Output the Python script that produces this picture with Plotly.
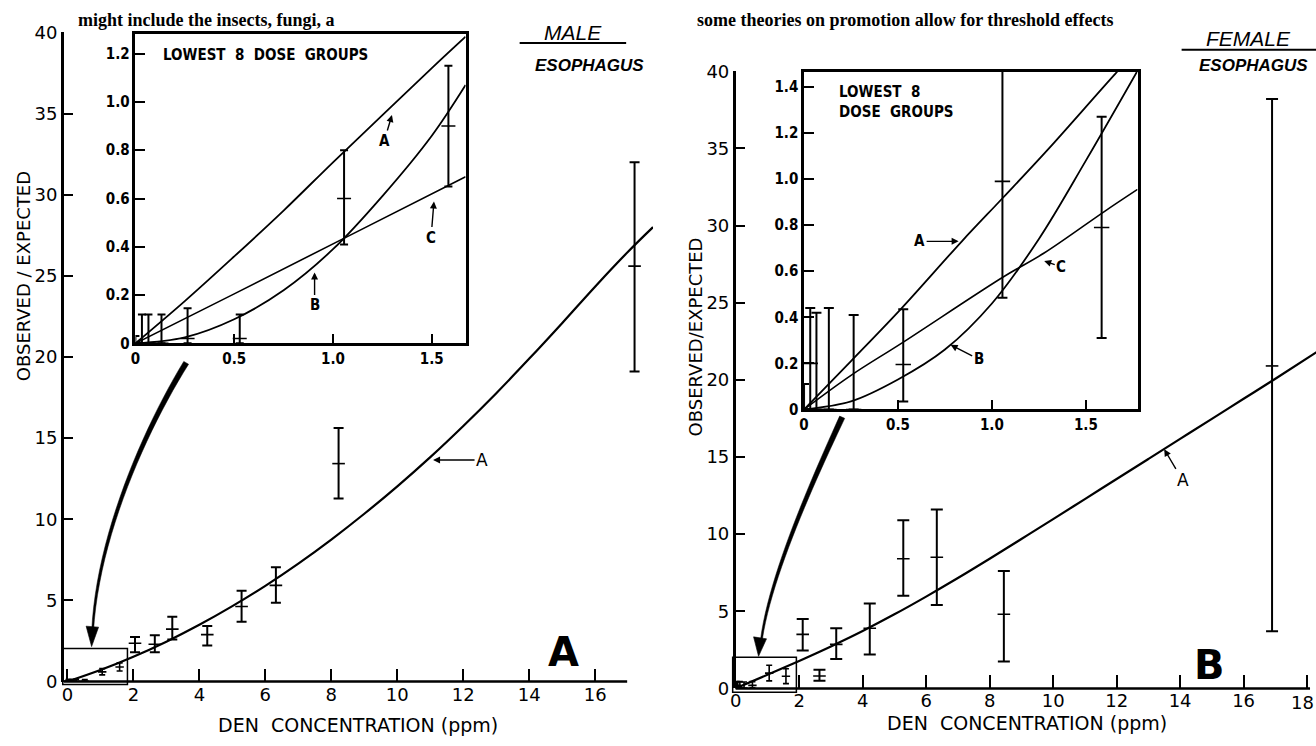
import plotly.graph_objects as go

W, H = 1316, 746


def fx(p):
    return p / W


def fy(p):
    return 1 - p / H


# ---------------- data ----------------
low_dose = [0, 0.033, 0.066, 0.132, 0.264, 0.528, 1.056, 1.584]

male_low_mid = [0, 0, 0, 0, 0.02, 0.02, 0.60, 0.90]
male_low_lo = [0, 0, 0, 0, 0, 0, 0.41, 0.65]
male_low_hi = [0.03, 0.12, 0.12, 0.12, 0.145, 0.12, 0.80, 1.15]

male_hi_dose = [2.05, 2.65, 3.18, 4.24, 5.28, 6.32, 8.22, 17.19]
male_hi_mid = [2.36, 2.3, 3.23, 2.89, 4.63, 5.93, 13.43, 25.6]
male_hi_lo = [1.8, 1.8, 2.59, 2.23, 3.69, 4.85, 11.28, 19.1]
male_hi_hi = [2.75, 2.85, 3.99, 3.43, 5.59, 7.05, 15.63, 32.0]

fem_low_mid = [0, 0.2, 0, 0, 0, 0.195, 0.99, 0.79]
fem_low_lo = [0, 0, 0, 0, 0, 0.035, 0.485, 0.31]
fem_low_hi = [0.11, 0.44, 0.42, 0.44, 0.41, 0.435, 1.50, 1.27]

fem_hi_dose = [2.112, 2.64, 3.168, 4.224, 5.28, 6.336, 8.448, 16.896]
fem_hi_mid = [3.5, 0.8, 2.85, 3.9, 8.4, 8.5, 4.8, 20.9]
fem_hi_lo = [2.45, 0.5, 1.9, 2.2, 6.0, 5.4, 1.75, 3.7]
fem_hi_hi = [4.5, 1.2, 3.9, 5.5, 10.9, 11.6, 7.6, 38.2]

# fitted model curves
male_A_x = [0, 1, 2, 3, 4, 5, 6, 7, 8, 9, 10, 11, 12, 13, 14, 15, 16, 17, 17.75]
male_A_y = [0, 0.71, 1.53, 2.46, 3.50, 4.65, 5.90, 7.27, 8.75, 10.34, 12.03, 13.83,
            15.75, 17.77, 19.90, 22.1, 24.35, 26.5, 28.0]

male_inA_x = [0, 0.25, 0.5, 0.75, 1.0, 1.25, 1.5, 1.671]
male_inA_y = [0, 0.175, 0.36, 0.55, 0.75, 0.945, 1.14, 1.27]
male_inB_x = [0, 0.25, 0.5, 0.75, 1.0, 1.25, 1.5, 1.671]
male_inB_y = [0, 0.025, 0.1, 0.22, 0.39, 0.61, 0.86, 1.07]
male_inC_x = [0, 0.5, 1.06, 1.671]
male_inC_y = [0, 0.205, 0.437, 0.69]

fem_A_x = [0, 1, 2, 3, 4, 5, 6, 7, 8, 9, 10, 11, 12, 13, 14, 15, 16, 17, 18.3]
fem_A_y = [0, 0.88, 1.78, 2.72, 3.72, 4.80, 5.95, 7.15, 8.40, 9.68, 10.97, 12.27,
           13.57, 14.87, 16.17, 17.47, 18.77, 20.07, 21.8]

fem_inA_x = [0, 0.25, 0.52, 0.84, 1.06, 1.3, 1.66, 1.775]
fem_inA_y = [0, 0.21, 0.44, 0.73, 0.92, 1.13, 1.46, 1.56]
fem_inB_x = [0, 0.25, 0.5, 0.75, 1.0, 1.25, 1.5, 1.775]
fem_inB_y = [0, 0.035, 0.13, 0.26, 0.46, 0.74, 1.08, 1.47]
fem_inC_x = [0, 0.25, 0.52, 1.06, 1.28, 1.6, 1.775]
fem_inC_y = [0, 0.148, 0.288, 0.575, 0.68, 0.86, 0.955]

main_y_ticks = [0, 5, 10, 15, 20, 25, 30, 35, 40]
male_x_ticks = [0, 2, 4, 6, 8, 10, 12, 14, 16]
fem_x_ticks = [0, 2, 4, 6, 8, 10, 12, 14, 16, 18]
fem_x_text = ["0", "2", "4", "6", "8", "10", "12", "14", "16", ""]
inset_x_ticks = [0, 0.5, 1.0, 1.5]
inset_x_text = ["0", "0.5", "1.0", "1.5"]
male_in_y_ticks = [0, 0.2, 0.4, 0.6, 0.8, 1.0, 1.2]
male_in_y_text = ["0", "0.2", "0.4", "0.6", "0.8", "1.0", "1.2"]
fem_in_y_ticks = [0, 0.2, 0.4, 0.6, 0.8, 1.0, 1.2, 1.4]
fem_in_y_text = ["0", "0.2", "0.4", "0.6", "0.8", "1.0", "1.2", "1.4"]

SANS = "DejaVu Sans"
NARROW = "Liberation Sans Narrow, DejaVu Sans Condensed, Arial Narrow, sans-serif"

fig = go.Figure()


def curve(x, y, xa, ya, w=2.0):
    fig.add_trace(go.Scatter(x=x, y=y, mode="lines", xaxis=xa, yaxis=ya,
                             line=dict(color="black", width=w, shape="spline", smoothing=1.0),
                             hoverinfo="skip"))


def bars(x, mid, lo, hi, xa, ya, cap=5, thick=2.0, msize=9):
    fig.add_trace(go.Scatter(
        x=x, y=mid, mode="markers", xaxis=xa, yaxis=ya,
        marker=dict(symbol="line-ew", size=msize, color="black",
                    line=dict(width=1.6, color="black")),
        error_y=dict(type="data", symmetric=False,
                     array=[h - m for h, m in zip(hi, mid)],
                     arrayminus=[m - l for m, l in zip(mid, lo)],
                     color="black", thickness=thick, width=cap),
        hoverinfo="skip"))


# left main (male)
curve(male_A_x, male_A_y, "x", "y", 2.2)
bars(low_dose, male_low_mid, male_low_lo, male_low_hi, "x", "y", cap=3, thick=1.6, msize=6)
bars(male_hi_dose, male_hi_mid, male_hi_lo, male_hi_hi, "x", "y", cap=5)
# left inset
curve(male_inA_x, male_inA_y, "x2", "y2", 1.8)
curve(male_inB_x, male_inB_y, "x2", "y2", 1.8)
curve(male_inC_x, male_inC_y, "x2", "y2", 1.6)
bars(low_dose, male_low_mid, male_low_lo, male_low_hi, "x2", "y2", cap=4, thick=2.0, msize=10)
# right main (female)
curve(fem_A_x, fem_A_y, "x3", "y3", 2.2)
bars(low_dose, fem_low_mid, fem_low_lo, fem_low_hi, "x3", "y3", cap=3, thick=1.6, msize=6)
bars(fem_hi_dose, fem_hi_mid, fem_hi_lo, fem_hi_hi, "x3", "y3", cap=6)
# right inset
curve(fem_inA_x, fem_inA_y, "x4", "y4", 1.8)
curve(fem_inB_x, fem_inB_y, "x4", "y4", 1.8)
curve(fem_inC_x, fem_inC_y, "x4", "y4", 1.6)
bars(low_dose, fem_low_mid, fem_low_lo, fem_low_hi, "x4", "y4", cap=5, thick=2.0, msize=11)

main_tick_font = dict(family=SANS, size=18, color="black")
inset_tick_font = dict(family=NARROW, size=15, color="black", weight="bold")

common = dict(showgrid=False, zeroline=False, ticks="inside", tickcolor="black",
              fixedrange=True)

fig.update_layout(
    width=W, height=H, autosize=False,
    margin=dict(l=0, r=0, t=0, b=0),
    paper_bgcolor="white", plot_bgcolor="white",
    showlegend=False,
    xaxis=dict(domain=[fx(58), fx(650)], range=[-0.11, 17.75], tickvals=male_x_ticks,
               ticklen=13, tickwidth=2, showline=False, tickfont=main_tick_font,
               anchor="y", **common),
    yaxis=dict(domain=[fy(690), fy(22)], range=[0, 40], tickvals=main_y_ticks,
               ticklen=10, tickwidth=2, showline=True, linewidth=2.5, linecolor="black",
               tickfont=main_tick_font, anchor="x", **common),
    xaxis2=dict(domain=[fx(130), fx(461.7)], range=[0, 1.671], tickvals=inset_x_ticks,
                ticktext=inset_x_text, ticklen=10, tickwidth=2, showline=True, mirror=True,
                linewidth=2.5, linecolor="black", tickfont=inset_tick_font, anchor="y2",
                **common),
    yaxis2=dict(domain=[fy(342), fy(24)], range=[0, 1.28], tickvals=male_in_y_ticks,
                ticktext=male_in_y_text, ticklen=10, tickwidth=2, showline=True, mirror=True,
                linewidth=2.5, linecolor="black", tickfont=inset_tick_font, anchor="x2",
                **common),
    xaxis3=dict(domain=[fx(733), fx(1316)], range=[0, 18.28], tickvals=fem_x_ticks,
                ticktext=fem_x_text, ticklen=13, tickwidth=2, showline=False,
                tickfont=main_tick_font, anchor="y3", **common),
    yaxis3=dict(domain=[fy(697), fy(62)], range=[0, 40], tickvals=main_y_ticks,
                ticklen=10, tickwidth=2, showline=True, linewidth=2.5, linecolor="black",
                tickfont=main_tick_font, anchor="x3", **common),
    xaxis4=dict(domain=[fx(801.7), fx(1136.7)], range=[0, 1.775], tickvals=inset_x_ticks,
                ticktext=inset_x_text, ticklen=10, tickwidth=2, showline=True, mirror=True,
                linewidth=2.5, linecolor="black", tickfont=inset_tick_font, anchor="y4",
                **common),
    yaxis4=dict(domain=[fy(410), fy(62.7)], range=[0, 1.465], tickvals=fem_in_y_ticks,
                ticktext=fem_in_y_text, ticklen=10, tickwidth=2, showline=True, mirror=True,
                linewidth=2.5, linecolor="black", tickfont=inset_tick_font, anchor="x4",
                **common),
)

shapes = []


def pline(x0, y0, x1, y1, w=2.5):
    shapes.append(dict(type="line", xref="paper", yref="paper",
                       x0=fx(x0), y0=fy(y0), x1=fx(x1), y1=fy(y1),
                       line=dict(color="black", width=w)))


def prect(x0, y0, x1, y1, w=1.5):
    shapes.append(dict(type="rect", xref="paper", yref="paper",
                       x0=fx(x0), y0=fy(y0), x1=fx(x1), y1=fy(y1),
                       line=dict(color="black", width=w)))


def bezier(p0, p1, p2, p3, n=24):
    pts = []
    for i in range(n + 1):
        t = i / n
        a, b, c, d = (1 - t) ** 3, 3 * (1 - t) ** 2 * t, 3 * (1 - t) * t ** 2, t ** 3
        pts.append((a * p0[0] + b * p1[0] + c * p2[0] + d * p3[0],
                    a * p0[1] + b * p1[1] + c * p2[1] + d * p3[1]))
    return pts


def tapered(points, w0, w1):
    left, right = [], []
    n = len(points)
    for i, (x, y) in enumerate(points):
        hw = w0 + (w1 - w0) * i / (n - 1)
        x0, y0 = points[max(i - 1, 0)]
        x1, y1 = points[min(i + 1, n - 1)]
        tx, ty = x1 - x0, y1 - y0
        L = (tx * tx + ty * ty) ** 0.5
        nx, ny = -ty / L, tx / L
        left.append((x + nx * hw, y + ny * hw))
        right.append((x - nx * hw, y - ny * hw))
    pts = left + right[::-1]
    path = "M " + " L ".join(f"{fx(a):.5f},{fy(b):.5f}" for a, b in pts) + " Z"
    shapes.append(dict(type="path", xref="paper", yref="paper", path=path,
                       fillcolor="black", line=dict(color="black", width=0.5)))


def tri(p1, p2, p3):
    path = "M " + " L ".join(f"{fx(a):.5f},{fy(b):.5f}" for a, b in (p1, p2, p3)) + " Z"
    shapes.append(dict(type="path", xref="paper", yref="paper", path=path,
                       fillcolor="black", line=dict(color="black", width=0.6)))


# main x-axis lines
pline(58, 690, 624, 690, 2.5)
pline(733, 697, 1310, 697, 2.5)
# small boxes marking the inset region
prect(57, 656, 122, 693, 1.5)
prect(730, 665, 794, 701, 1.5)
# header underlines
pline(516, 33, 623, 33, 2)
pline(1181, 40, 1316, 40, 2)
# curved pointer arrows
tapered(bezier((181, 362), (140, 430), (92, 540), (87, 638)), 2.8, 0.9)
tri((86, 654), (80.5, 633), (93, 634))
tapered(bezier((840, 418), (812, 480), (768, 580), (759, 646)), 2.8, 0.9)
tri((756, 664), (751, 644), (764, 646))

fig.update_layout(shapes=shapes)

ann = []


def txt(text, x, y, size, family=SANS, xanchor="center", yanchor="middle", angle=0,
        weight="normal", style="normal", align="center"):
    ann.append(dict(text=text, x=fx(x), y=fy(y), xref="paper", yref="paper",
                    xanchor=xanchor, yanchor=yanchor, textangle=angle, showarrow=False,
                    align=align,
                    font=dict(family=family, size=size, color="black", weight=weight,
                              style=style)))


def arr(text, hx, hy, tx, ty, size=15, family=NARROW, weight="bold"):
    ann.append(dict(text=text, x=fx(hx), y=fy(hy), xref="paper", yref="paper",
                    ax=tx - hx, ay=ty - hy, showarrow=True, arrowhead=2, arrowsize=1,
                    arrowwidth=1.4, arrowcolor="black", standoff=1,
                    font=dict(family=family, size=size, color="black", weight=weight)))


# body text at the top of the page
txt("might include the insects, fungi, a", 70, 9, 18, family="Liberation Serif",
    xanchor="left", weight="bold")
txt("some theories on promotion allow for threshold effects", 692, 9, 18,
    family="Liberation Serif", xanchor="left", weight="bold")

# axis titles
txt("OBSERVED / EXPECTED", 17, 273, 18, angle=-90)
txt("OBSERVED/EXPECTED", 693, 335, 18, angle=-90)
txt("DEN  CONCENTRATION (ppm)", 354, 735, 19)
txt("DEN  CONCENTRATION (ppm)", 1026, 733, 19)
txt("18", 1302, 712, 18)

# headers
txt("MALE", 570, 22, 21, family="Liberation Sans", style="italic")
txt("ESOPHAGUS", 586, 56, 17, family="Liberation Sans", style="italic", weight="bold")
txt("FEMALE", 1248, 28, 21, family="Liberation Sans", style="italic")
txt("ESOPHAGUS", 1196, 56, 17, family="Liberation Sans", style="italic", weight="bold",
    xanchor="left")

# inset titles
txt("LOWEST  8  DOSE  GROUPS", 156, 45, 15, family=NARROW, xanchor="left", weight="bold")
txt("LOWEST  8<br>DOSE  GROUPS", 835, 94, 15, family=NARROW, xanchor="left", weight="bold",
    align="left")

# panel letters
txt("A", 560, 660, 40, family=SANS, weight="bold")
txt("B", 1209, 673, 40, family=SANS, weight="bold")

# curve labels
arr("A", 428, 462, 478, 462, size=17, family=SANS, weight="normal")
arr("A", 1163, 450, 1182, 482, size=17, family=SANS, weight="normal")
arr("A", 388, 106, 380, 133)
arr("C", 430, 195, 427, 232)
arr("B", 310, 268, 310, 302)
arr("A", 958, 237, 918, 237)
arr("C", 1042, 257, 1060, 263)
arr("B", 948, 343, 977, 358)

fig.update_layout(annotations=ann)

fig.write_html("out.html", config={"displayModeBar": False},
               post_script="document.body.style.margin='0';document.body.style.overflow='hidden';")
